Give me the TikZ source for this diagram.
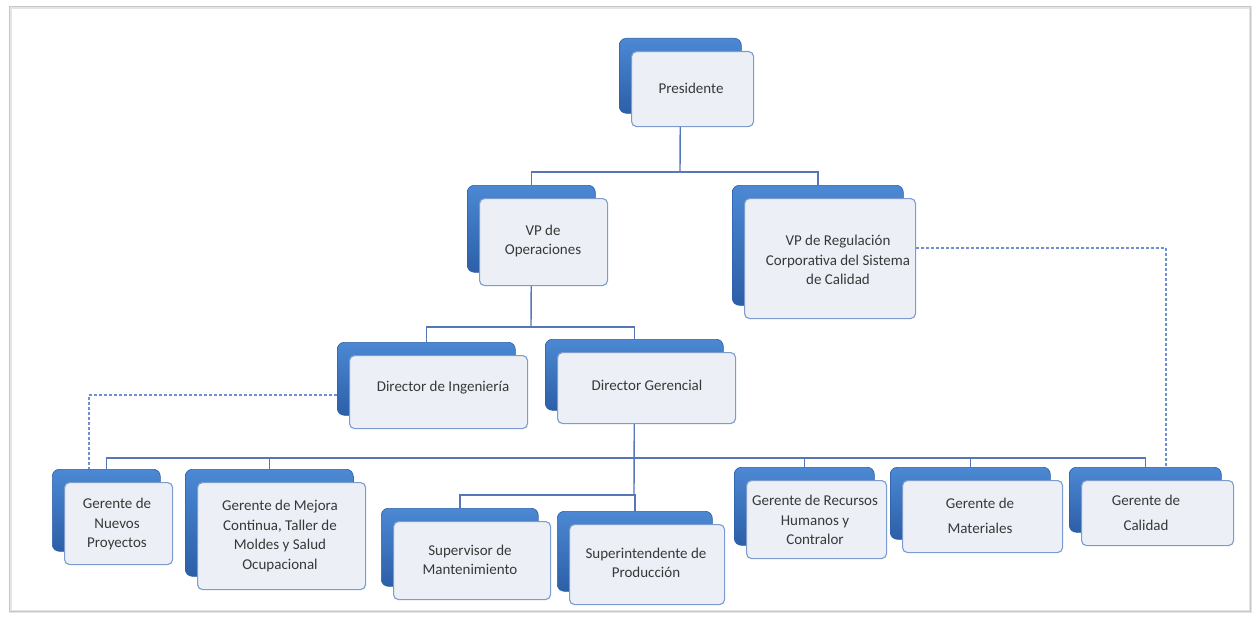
\documentclass[tikz,border=0pt]{standalone}
\usepackage{fontspec}
\setmainfont{Carlito}
\usetikzlibrary{calc}
\pgfdeclarelayer{paper}
\pgfdeclarelayer{bg}
\pgfsetlayers{paper,bg,main}
\definecolor{backtop}{HTML}{4C88D3}
\definecolor{backbot}{HTML}{2C5FA8}
\definecolor{frontfill}{HTML}{ECF0F6}
\definecolor{frontline}{HTML}{7C9CD0}
\definecolor{connc}{HTML}{5577B8}
\definecolor{dashc}{HTML}{6D8FD6}
\definecolor{txt}{HTML}{383838}
\tikzset{
  backbox/.style={rounded corners=7pt, top color=backtop, bottom color=backbot, draw=backbot, line width=0.6pt, anchor=north west, inner sep=0pt},
  frontbox/.style={rounded corners=5pt, fill=frontfill, draw=frontline, line width=1.1pt, anchor=north west, inner sep=0pt},
  lbl/.style={text=txt, align=center, font=\fontsize{15}{19.5}\selectfont, inner sep=0pt},
  conn/.style={draw=connc, line width=1.4pt},
  dotconn/.style={draw=dashc, line width=1.2pt, dash pattern=on 3pt off 2pt},
}
% #1 name, #2 x, #3 y (front box top-left), #4 w, #5 h, #6 text x, #7 text y, #8 text
\newcommand{\orgbox}[8]{%
  \node[backbox, minimum width=#4pt, minimum height=#5pt] (#1) at (#2-12,#3-13) {};
  \node[frontbox, minimum width=#4pt, minimum height=#5pt] (#1f) at (#2,#3) {};
  \node[lbl] (#1t) at (#6,#7) {#8};
}
\begin{document}
\begin{tikzpicture}[x=1pt,y=-1pt]
\useasboundingbox (0,0) rectangle (1258,618);
\begin{pgfonlayer}{paper}
\fill[white] (0,0) rectangle (1258,618);
\draw[gray!20, line width=3pt] (10,8) rectangle (1250,611);
\draw[gray!45, line width=1pt] (9,7) rectangle (1250,611);
\end{pgfonlayer}

\orgbox{Pres}{631}{51}{122}{75}{691}{88}{Presidente}
\orgbox{VPOps}{479}{198}{128}{87}{543}{241}{VP de\\Operaciones}
\orgbox{VPReg}{744}{198}{171}{120}{838}{260}{VP de Regulación\\Corporativa del Sistema\\de Calidad}
\orgbox{DirIng}{349}{355}{178}{73}{443}{388}{Director de Ingeniería}
\orgbox{DirGer}{557}{352}{178}{71}{647}{385}{Director Gerencial}
\orgbox{Nuevos}{64}{482}{108}{82}{117}{524}{Gerente de\\Nuevos\\Proyectos}
\orgbox{Mejora}{197}{482}{168}{107}{280}{536}{Gerente de Mejora\\Continua, Taller de\\Moldes y Salud\\Ocupacional}
\orgbox{Superv}{393}{521}{157}{78}{470}{560}{Supervisor de\\Mantenimiento}
\orgbox{Superint}{569}{524}{155}{80}{646}{563}{Superintendente de\\Producción}
\orgbox{RRHH}{746}{480}{140}{78}{815}{520}{Gerente de Recursos\\Humanos y\\Contralor}
\orgbox{Mat}{902}{480}{160}{72}{980}{516}{Gerente de\\[6pt]Materiales}
\orgbox{Cal}{1081}{480}{152}{65}{1146}{513}{Gerente de\\[6pt]Calidad}

\begin{pgfonlayer}{bg}
  \coordinate (busA) at (680,172);
  \draw[conn] (Pres.south) -- (busA);
  \draw[conn] (VPOps.north) |- (busA) -| (VPReg.north);
  \coordinate (busB) at (531,327);
  \draw[conn] (VPOps.south) -- (busB);
  \draw[conn] (DirIng.north) |- (busB) -| (DirGer.north);
  \coordinate (busC) at (634,458);
  \coordinate (busD) at (634,495);
  \draw[conn] (DirGer.south) -- (busD);
  \draw[conn] (Nuevos.north) |- (busC) -| (Cal.north);
  \draw[conn] (Mejora.north) |- (busC);
  \draw[conn] (RRHH.north) |- (busC);
  \draw[conn] (Mat.north) |- (busC);
  \draw[conn] (Superv.north) |- (busD) -| (Superint.north);
  \coordinate (dA) at (89,395);
  \draw[dotconn] (DirIng.west |- dA) -- (dA) -- (dA |- Nuevos.north);
  \coordinate (dB) at (1166,248);
  \draw[dotconn] (VPRegf.east |- dB) -- (dB) -- (dB |- Cal.north);
\end{pgfonlayer}
\end{tikzpicture}
\end{document}
